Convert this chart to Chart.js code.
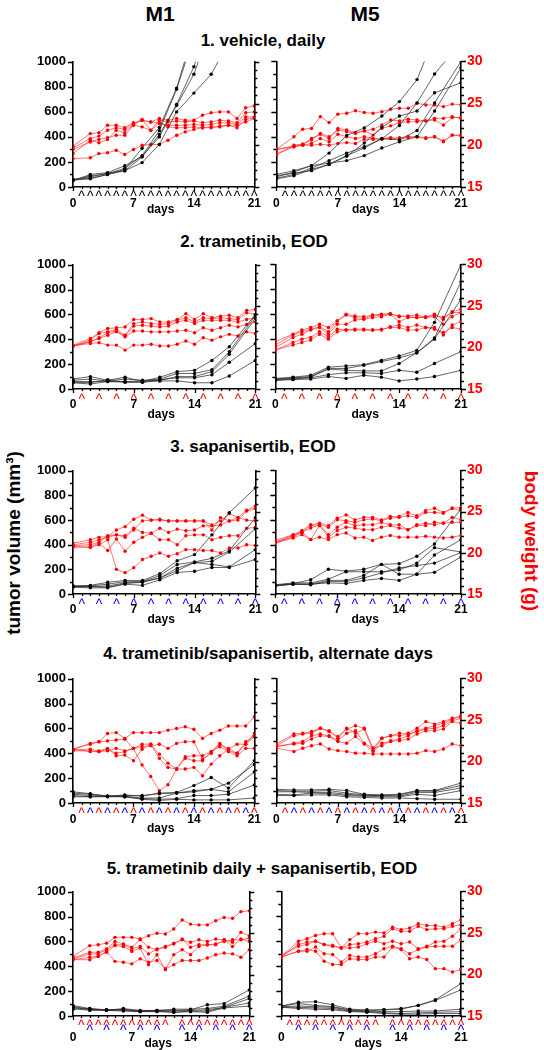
<!DOCTYPE html>
<html><head><meta charset="utf-8">
<script src="https://cdn.jsdelivr.net/npm/chart.js@4.4.0/dist/chart.umd.min.js"></script>
<style>
body{margin:0;background:#fff;width:544px;height:1050px;position:relative;overflow:hidden;font-family:'Liberation Sans',Arial,sans-serif;}
.t{position:absolute;font-weight:bold;white-space:nowrap;transform:translate(-50%,-50%);line-height:1;color:#000;}
canvas{position:absolute;}
</style></head><body>
<div class="t" style="left:160px;top:13px;font-size:21px;">M1</div>
<div class="t" style="left:365px;top:13px;font-size:21px;">M5</div>
<div class="t" style="left:13px;top:543px;font-size:19px;transform:translate(-50%,-50%) rotate(-90deg);">tumor volume (mm³)</div>
<div class="t" style="left:531px;top:541px;font-size:19px;color:#ff0000;transform:translate(-50%,-50%) rotate(90deg);">body weight (g)</div>
<div id="titles"></div>
<script>
// ---------- DATA ----------
const TUMOR_DAYS = [0,2,4,6,8,10,12,14,16,18,21];
const WEIGHT_DAYS = [0,2,3,4,5,6,7,8,9,10,11,12,13,14,15,16,17,18,19,20,21];
const TITLES = ["1. vehicle, daily","2. trametinib, EOD","3. sapanisertib, EOD","4. trametinib/sapanisertib, alternate days","5. trametinib daily + sapanisertib, EOD"];
const X_TICKS = [0,7,14,21];

// dosing schedules (days)
const doseDaily = [1,2,3,4,5,6,7,8,9,10,11,12,13,14,15,16,17,18,19,20,21];
const doseOdd = [1,3,5,7,9,11,13,15,17,19,21];
const doseEven = [2,4,6,8,10,12,14,16,18,20];
const doseTramDaily = [1,2,3,4,5,6,7,8,9,10,11,13,14,15,16,17,18,19,20,21];
const doseSapaEOD = [2,4,6,8,10,13,15,17,19,21];

// tumor volume (mm3)
const vehicle_M1_tumor = [
 [60,70,100,140,310,475,790,1250],
 [55,90,105,150,250,450,780,1200],
 [50,100,115,170,245,400,660,960,1400],
 [55,65,100,130,195,340,600,750,900,1150],
 [60,80,110,130,240,420,650,900,1300]];
const vehicle_M5_tumor = [
 [80,120,170,270,410,470,565,680,855,1200],
 [70,100,150,210,270,320,385,490,670,900,1150],
 [65,90,140,180,245,350,475,565,605,750,830],
 [90,110,130,180,250,310,385,375,450,670,1000],
 [100,130,170,190,210,250,310,360,400,605,950]];
const tram_M1_tumor = [
 [80,100,70,95,60,95,140,150,230,340,600],
 [70,80,65,80,70,80,125,125,155,300,590],
 [60,60,60,60,65,70,100,100,140,280,570],
 [55,50,75,55,55,75,90,90,115,215,365],
 [50,40,60,55,55,65,65,50,50,105,230]];
const tram_M5_tumor = [
 [85,95,110,175,185,195,230,265,310,535,1000],
 [80,90,100,165,165,190,220,250,290,410,860],
 [75,85,95,160,150,145,145,205,290,400,720],
 [70,80,90,115,130,130,125,150,135,205,300],
 [70,75,80,100,85,110,95,65,80,100,150]];
const sapa_M1_tumor = [
 [65,70,95,110,110,165,270,320,480,660,860],
 [65,65,80,100,100,150,240,260,290,350,620],
 [60,60,65,90,100,130,210,255,265,340,530],
 [60,60,55,85,95,130,190,255,240,220,360],
 [55,50,50,80,70,115,175,185,215,215,280]];
const sapa_M5_tumor = [
 [70,85,115,200,185,200,240,245,305,405,690],
 [75,90,90,120,180,180,180,195,250,375,340],
 [70,80,80,110,110,150,240,160,160,315,440],
 [65,80,75,100,100,130,170,210,230,250,335],
 [65,80,80,90,85,110,125,110,160,175,300]];
const alt_M1_tumor = [
 [90,75,55,65,55,80,85,140,205,120,340],
 [80,70,55,60,60,75,80,100,110,160,310],
 [70,60,55,55,40,40,80,90,110,90,250],
 [60,50,55,50,35,30,35,60,60,70,145],
 [50,50,50,50,30,20,30,25,25,25,40]];
const alt_M5_tumor = [
 [110,105,105,110,100,70,65,70,100,100,160],
 [100,95,95,100,80,65,60,65,95,95,140],
 [90,90,85,85,70,60,60,55,85,85,120],
 [70,65,80,75,60,55,50,50,70,60,100],
 [60,60,65,65,50,45,40,40,35,30,30]];
const combo_M1_tumor = [
 [85,60,50,55,40,45,45,50,90,100,210],
 [75,55,45,60,45,45,55,55,60,80,160],
 [70,50,45,50,40,40,40,45,50,70,140],
 [60,45,50,45,35,40,30,40,40,70,105],
 [55,60,45,40,35,35,30,35,30,65,80]];
const combo_M5_tumor = [
 [80,110,115,90,55,50,50,55,85,130,260],
 [80,100,85,75,50,40,50,60,85,125,210],
 [75,80,75,70,45,40,35,35,40,40,55],
 [70,70,65,60,40,35,25,20,25,30,35],
 [70,60,55,50,35,30,20,15,15,20,20]];

// body weight (g)
const vehicle_M1_weight = [
 [19.9,21.4,21.5,22.4,22.4,22.1,22.7,23.0,22.8,23.2,23.0,23.2,23.0,23.0,23.6,23.9,24.0,24.0,23.2,24.5,24.7],
 [19.7,20.8,21.1,21.8,22.1,21.9,22.5,23.1,21.8,23.0,22.8,22.9,22.8,22.9,22.7,22.8,23.0,22.9,22.7,23.9,24.0],
 [19.5,20.4,20.7,20.9,21.2,21.2,22.4,22.2,21.8,22.6,22.4,22.4,22.4,22.5,22.4,22.5,22.7,22.7,22.5,23.4,23.4],
 [19.0,20.6,20.3,20.7,21.8,21.5,22.5,23.0,22.8,22.7,22.2,22.1,22.1,22.2,22.1,22.1,22.3,22.4,22.1,23.1,23.3],
 [18.4,18.5,19.0,19.1,19.4,18.9,19.5,20.0,20.1,20.1,20.6,21.2,21.6,21.9,22.1,22.2,22.2,22.4,22.4,22.8,23.2]];
const vehicle_M5_weight = [
 [19.5,21.0,21.9,22.0,23.4,22.7,23.7,23.8,24.1,23.9,23.8,24.0,24.3,24.4,24.4,25.0,24.8,24.8,24.6,24.9,24.8],
 [18.9,20.0,20.1,20.6,21.4,21.0,21.8,21.6,21.4,21.7,21.9,22.4,23.0,22.9,23.1,23.0,22.9,23.2,23.2,23.4,23.2],
 [19.5,19.9,20.1,20.8,21.3,20.8,22.0,21.8,21.5,21.7,21.2,22.0,22.3,22.7,22.8,22.8,22.9,23.0,22.4,23.3,23.3],
 [19.5,19.8,20.0,20.2,20.8,20.4,21.3,21.0,20.8,21.0,20.8,20.8,20.9,20.7,20.9,21.0,20.9,21.0,20.5,21.2,21.1],
 [18.9,19.8,20.0,20.0,20.1,20.0,20.2,20.3,20.2,20.7,20.7,20.7,20.8,20.9,21.0,21.0,20.8,21.0,20.4,21.2,21.2]];
const tram_M1_weight = [
 [20.3,21.1,21.8,22.3,22.4,22.5,23.4,23.4,23.5,23.1,23.1,23.4,24.1,23.4,24.1,23.6,23.8,23.9,23.6,24.5,24.6],
 [20.2,20.9,21.7,21.9,22.2,21.5,22.9,23.1,22.9,22.8,22.9,23.3,23.6,23.1,23.6,23.5,23.6,23.5,23.4,24.2,24.0],
 [20.2,20.7,21.2,21.8,22.0,21.4,22.6,22.7,22.6,22.5,22.6,23.1,23.3,22.9,23.3,23.3,23.3,23.3,23.1,23.4,23.6],
 [20.2,20.7,21.1,21.5,21.9,21.3,22.0,22.0,21.9,21.9,21.9,22.0,22.1,21.8,22.4,22.1,22.4,22.7,22.5,22.8,23.1],
 [20.2,20.5,20.6,20.3,20.3,19.7,20.3,20.3,20.4,20.2,20.2,20.4,20.8,20.4,21.2,20.9,21.3,21.6,21.4,21.9,21.7]];
const tram_M5_weight = [
 [20.7,21.6,22.1,22.4,22.8,22.4,23.2,24.0,23.8,23.7,23.9,24.0,24.1,23.7,23.8,23.9,23.6,24.0,23.4,24.3,24.6],
 [20.3,21.5,21.9,22.2,22.5,21.9,23.2,23.9,23.6,23.5,23.8,23.9,24.0,23.8,23.7,23.6,23.7,23.9,23.6,24.2,24.2],
 [20.0,21.2,21.6,22.1,22.4,21.6,22.8,22.8,23.3,23.4,23.6,23.7,24.0,23.1,23.6,23.6,23.6,23.7,22.8,23.7,24.2],
 [19.7,20.6,21.0,21.2,21.9,21.3,22.2,22.1,22.1,22.1,22.1,22.1,22.5,22.7,22.4,22.7,22.4,22.4,21.5,22.7,23.1],
 [19.7,20.3,20.6,20.9,21.6,21.0,21.9,22.1,22.2,22.2,22.1,22.2,22.4,22.4,22.1,22.1,22.4,22.2,21.8,22.4,22.2]];
const sapa_M1_weight = [
 [21.2,21.6,21.9,22.0,22.8,23.2,24.1,24.6,24.0,24.1,23.9,23.9,23.9,23.9,23.9,22.8,24.3,23.9,24.3,25.2,25.7],
 [20.9,21.0,21.3,22.1,22.2,22.1,23.0,22.5,22.4,23.0,22.5,22.9,22.7,22.8,23.3,23.3,23.4,23.9,24.0,25.1,25.4],
 [20.8,20.7,21.2,20.3,21.7,20.2,21.3,21.9,22.4,21.6,21.6,21.0,22.1,22.2,22.2,21.6,21.9,22.1,22.1,23.0,23.1],
 [20.7,20.7,21.0,21.6,18.0,17.6,18.2,19.2,19.6,20.0,19.6,19.9,20.4,20.4,20.3,20.3,20.0,20.6,20.6,21.0,20.9],
 [21.0,21.3,21.6,21.9,22.2,21.9,22.8,23.9,24.0,24.0,23.9,23.9,23.9,23.9,23.9,23.4,23.9,24.8,24.3,24.0,23.9]];
const sapa_M5_weight = [
 [21.5,22.2,22.7,23.4,23.6,23.3,24.2,24.6,24.0,24.3,24.3,24.0,24.4,24.4,24.9,24.5,25.1,25.4,24.9,25.4,25.5],
 [21.3,22.1,22.5,23.3,23.4,23.1,24.0,23.9,23.7,24.0,24.1,23.9,24.2,24.3,24.5,24.3,24.9,24.9,24.8,25.4,25.1],
 [21.2,22.1,22.5,23.0,23.4,22.2,23.1,23.7,23.3,23.4,23.4,23.7,23.4,23.4,22.8,23.4,23.6,23.4,23.6,24.3,24.0],
 [21.2,21.9,22.5,21.6,23.3,21.9,22.7,23.1,23.0,22.8,22.8,23.1,23.3,23.0,22.8,23.3,23.3,23.7,23.6,23.7,23.7],
 [21.2,21.8,22.2,21.6,21.9,21.6,22.2,22.4,21.8,21.9,21.5,21.9,22.1,21.9,21.9,21.9,22.0,21.9,21.8,21.9,22.1]];
const alt_M1_weight = [
 [21.5,22.2,22.4,23.4,23.5,22.8,23.5,23.5,23.5,23.5,23.8,24.0,24.2,23.9,22.8,23.4,23.8,24.3,24.3,24.3,25.4],
 [21.5,22.1,22.4,22.5,22.6,22.7,21.6,19.6,18.2,16.5,17.2,19.1,20.6,20.7,20.7,21.2,21.8,21.2,20.7,21.6,21.6],
 [21.4,21.5,21.3,21.6,20.7,20.8,20.1,21.5,22.1,20.9,19.8,19.1,19.1,19.3,18.3,19.7,20.7,21.5,22.1,22.1,23.0],
 [21.3,21.3,21.2,21.5,21.0,21.2,21.6,22.1,22.1,20.4,19.3,19.1,20.4,20.1,20.1,21.2,22.2,21.3,21.0,22.4,23.1],
 [21.5,21.2,21.2,21.3,21.6,21.3,21.6,21.8,21.9,22.1,21.6,22.2,22.4,22.4,20.3,21.0,22.1,21.6,21.0,22.1,23.4]];
const alt_M5_weight = [
 [22.1,23.3,23.4,23.6,24.0,23.7,22.8,24.0,23.4,23.9,21.3,22.8,23.1,23.4,23.4,24.0,24.8,24.5,24.8,25.2,25.5],
 [21.9,23.1,23.3,23.4,24.0,23.6,23.0,23.9,24.3,24.0,21.6,21.9,22.5,22.7,23.1,23.7,24.0,24.3,24.6,25.1,25.4],
 [21.8,22.2,22.4,23.1,23.3,23.1,22.5,23.4,23.7,22.2,21.6,22.8,23.1,23.1,23.3,23.6,23.9,24.0,24.3,24.9,25.2],
 [21.8,22.1,22.2,22.7,23.1,23.0,22.4,22.2,23.0,22.1,21.2,22.2,22.4,22.5,22.7,23.3,23.7,23.7,23.9,24.8,24.6],
 [21.6,21.2,21.6,21.9,22.1,21.5,21.3,21.2,21.0,21.0,20.9,20.9,20.9,20.9,20.9,21.0,21.3,21.2,21.5,22.1,21.9]];
const combo_M1_weight = [
 [22.2,23.5,23.6,23.8,24.5,24.5,24.5,24.3,24.7,25.0,24.9,25.5,26.6,26.1,26.0,26.0,26.5,26.9,26.8,27.6,27.7],
 [22.0,22.7,22.7,23.1,24.0,23.7,23.3,24.2,23.3,23.0,23.3,23.8,24.2,23.9,24.2,24.0,24.3,24.2,23.9,25.1,24.7],
 [21.9,22.5,22.5,23.0,23.6,23.6,23.1,23.4,22.5,23.1,23.4,23.7,24.3,23.3,23.6,23.6,23.6,24.2,23.4,24.3,24.0],
 [21.8,22.1,22.2,22.7,23.5,23.4,22.8,23.2,21.2,22.4,20.6,22.4,23.0,22.4,23.4,23.6,23.7,24.0,24.2,24.2,24.4],
 [21.8,21.8,22.2,22.8,21.6,21.5,21.3,21.9,21.5,21.7,20.7,21.2,21.7,21.7,21.7,22.0,22.4,22.6,22.5,22.1,23.0]];
const combo_M5_weight = [
 [22.2,24.0,24.3,24.7,24.9,24.9,23.2,24.2,24.9,24.9,25.1,25.0,25.7,25.4,25.6,26.1,25.9,25.9,25.7,26.1,26.6],
 [22.2,23.6,23.9,24.0,23.6,23.5,23.2,23.6,23.7,23.9,24.3,24.6,25.5,25.2,25.2,25.8,25.4,25.5,25.5,25.8,26.0],
 [22.2,23.4,23.6,24.0,23.6,23.4,23.2,23.2,23.3,23.7,24.0,23.7,24.0,23.7,23.9,23.1,23.4,23.9,24.0,24.6,25.5],
 [22.1,22.8,22.8,23.3,22.5,22.4,21.5,22.3,22.1,22.1,22.5,23.1,23.4,23.1,22.5,23.0,23.3,23.4,23.4,23.4,24.2],
 [22.1,22.8,23.0,22.8,21.6,21.2,21.2,21.9,21.8,21.8,22.1,22.1,23.3,23.0,21.9,22.1,21.8,20.7,20.7,20.3,20.6]];

// ---------- LAYOUT ----------
const RED = '#ff0000', BLUE = '#0000ff', BLACK = '#000000';
const FONT = "'Liberation Sans', Arial, sans-serif";
const ROW_PLOT = [[57,187],[260,389],[466,594],[674,803],[887,1016]];
const ROW_TITLE = [[263,40],[254,241],[253,446],[268,653],[262,868]];
const COL_LEFT = [73, 274];
const PLOT_W = 187;

const rows = [
  {tumor:[vehicle_M1_tumor, vehicle_M5_tumor], weight:[vehicle_M1_weight, vehicle_M5_weight],
   carets:[{days:doseDaily, color:BLACK, dy:13.5}], tickPad:9, daysDy:23},
  {tumor:[tram_M1_tumor, tram_M5_tumor], weight:[tram_M1_weight, tram_M5_weight],
   carets:[{days:doseOdd, color:RED, dy:14.5}], tickPad:8, daysDy:26},
  {tumor:[sapa_M1_tumor, sapa_M5_tumor], weight:[sapa_M1_weight, sapa_M5_weight],
   carets:[{days:doseOdd, color:BLUE, dy:14.5}], tickPad:8, daysDy:26},
  {tumor:[alt_M1_tumor, alt_M5_tumor], weight:[alt_M1_weight, alt_M5_weight],
   carets:[{days:doseOdd, color:RED, dy:14.5},{days:doseEven, color:BLUE, dy:14.5}], tickPad:9, daysDy:26},
  {tumor:[combo_M1_tumor, combo_M5_tumor], weight:[combo_M1_weight, combo_M5_weight],
   carets:[{days:doseTramDaily, color:RED, dy:13.8},{days:doseSapaEOD, color:BLUE, dy:19.2}], tickPad:14, daysDy:28}
];

const titlesDiv = document.getElementById('titles');
TITLES.forEach((t,i)=>{
  const d = document.createElement('div');
  d.className='t'; d.style.fontSize='17px';
  d.style.left = ROW_TITLE[i][0]+'px'; d.style.top = ROW_TITLE[i][1]+'px';
  d.textContent = t; titlesDiv.appendChild(d);
});

function decoPlugin(cfg){
  return {
    id:'deco',
    afterDraw(chart){
      const {ctx, chartArea:a, scales} = chart;
      const x = scales.x, y = scales.y, y2 = scales.y2;
      ctx.save();
      ctx.strokeStyle = '#000'; ctx.lineWidth = 1.3;
      ctx.beginPath();
      for (let v=0; v<=1000; v+=100){
        const p = Math.round(y.getPixelForValue(v))+0.5; const L = v%200===0?5:3;
        ctx.moveTo(a.left, p); ctx.lineTo(a.left-L, p);
      }
      for (let g=15; g<=30; g++){
        const p = Math.round(y2.getPixelForValue(g))+0.5; const L = g%5===0?5:3;
        ctx.moveTo(a.right, p); ctx.lineTo(a.right+L, p);
      }
      for (let d=0; d<=21; d++){
        const p = Math.round(x.getPixelForValue(d))+0.5; const L = d%7===0?4:2;
        ctx.moveTo(p, a.bottom); ctx.lineTo(p, a.bottom+L);
      }
      ctx.stroke();
      ctx.textAlign='center'; ctx.textBaseline='alphabetic';
      ctx.font = "14px " + FONT;
      for (const c of cfg.carets){
        ctx.fillStyle = c.color;
        for (const d of c.days) ctx.fillText('^', x.getPixelForValue(d), a.bottom + c.dy);
      }
      ctx.fillStyle = '#000'; ctx.font = "bold 12px " + FONT; ctx.textBaseline='middle';
      ctx.fillText('days', (a.left+a.right)/2 - 3, a.bottom + cfg.daysDy);
      ctx.restore();
    }
  };
}

rows.forEach((row, ri)=>{
  [0,1].forEach(ci=>{
    const [pTop, pBot] = ROW_PLOT[ri];
    const h = pBot - pTop;
    const leftW = ci===0 ? 50 : 10;
    const rightW = ci===0 ? 10 : 36;
    const TOPPAD = 10, XH = 42;
    const cv = document.createElement('canvas');
    const W = leftW + PLOT_W + rightW, H = TOPPAD + h + XH;
    cv.width = W; cv.height = H;
    cv.style.left = (COL_LEFT[ci]-leftW)+'px'; cv.style.top = (pTop-TOPPAD)+'px';
    cv.style.width = W+'px'; cv.style.height = H+'px';
    document.body.appendChild(cv);

    const datasets = [];
    row.tumor[ci].forEach(s=>{
      datasets.push({data: s.map((v,i)=>({x:TUMOR_DAYS[i], y:v})), yAxisID:'y',
        borderColor:'rgba(40,40,40,0.72)', borderWidth:1, pointRadius:1.7, pointBackgroundColor:'#000',
        pointBorderWidth:0, tension:0});
    });
    row.weight[ci].forEach(s=>{
      datasets.push({data: s.map((v,i)=>({x:WEIGHT_DAYS[i], y:v})), yAxisID:'y2',
        borderColor:'rgba(255,40,40,0.65)', borderWidth:1, pointRadius:1.7, pointBackgroundColor:'#ff0000',
        pointBorderWidth:0, tension:0});
    });

    new Chart(cv, {
      type:'line',
      data:{datasets},
      plugins:[decoPlugin(row)],
      options:{
        responsive:false, animation:false, devicePixelRatio:1,
        layout:{padding:{top:TOPPAD,left:0,right:0,bottom:0}},
        plugins:{legend:{display:false}, tooltip:{enabled:false}},
        scales:{
          x:{type:'linear', min:0, max:21,
             afterBuildTicks(s){ s.ticks = X_TICKS.map(v=>({value:v})); },
             ticks:{color:'#000', font:{family:FONT, weight:'bold', size:12}, padding:row.tickPad, maxRotation:0, autoSkip:false,
                    callback:(v)=>String(v)},
             grid:{display:true, drawOnChartArea:false, drawTicks:false},
             border:{display:true, color:'#000', width:1.6},
             afterFit(s){ s.height = XH; }},
          y:{type:'linear', position:'left', min:0, max:1000,
             ticks:{display: ci===0, stepSize:200, color:'#000', font:{family:FONT, weight:'bold', size:13}, padding:7,
                    callback:(v)=>String(v)},
             grid:{display:true, drawOnChartArea:false, drawTicks:false},
             border:{display:true, color:'#000', width:1.6},
             afterFit(s){ s.width = leftW; }},
          y2:{type:'linear', position:'right', min:15, max:30,
             ticks:{display: ci===1, stepSize:5, color:RED, font:{family:FONT, weight:'bold', size:14}, padding:6,
                    callback:(v)=>String(v)},
             grid:{display:true, drawOnChartArea:false, drawTicks:false},
             border:{display:true, color:'#000', width:1.6},
             afterFit(s){ s.width = rightW; }}
        }
      }
    });
  });
});
</script>
</body></html>
